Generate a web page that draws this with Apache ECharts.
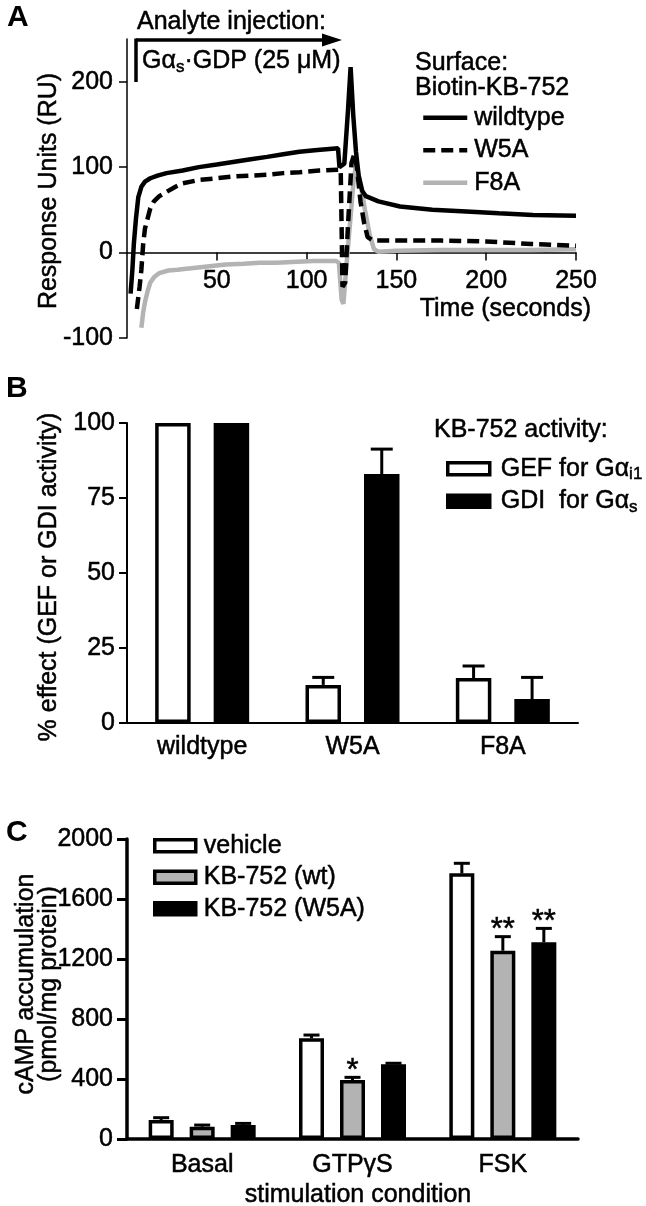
<!DOCTYPE html>
<html><head><meta charset="utf-8">
<script src="https://cdn.jsdelivr.net/npm/echarts@6/dist/echarts.min.js"></script>
<style>html,body{margin:0;padding:0;background:#fff}#c{width:646px;height:1206px}</style>
</head><body><div id="c"></div>
<script>
// ---------- Panel A: SPR sensorgram (time in s, response in RU) ----------
const wildtypeRU = [[2,-48],[3,-20],[3.8,10],[5,40],[6.3,65],[8,77],[10,83],[13,87],[17,90],[22,93],[31,96],[40,100],[50,103],[59,106],[68,109],[78,112],[87,115],[96,118],[106,120],[117.5,122],[118.3,100],[121,104],[123,165],[124.5,217],[126,160],[127.5,118],[129,90],[131,72],[133,66],[140,60],[152,54],[170,50],[189,48],[207,46],[226,44],[250,43]];
const w5aRU = [[5.5,-66],[7,-40],[8,-20],[9,10],[10,28],[11.5,40],[13,52],[15,60],[18,66],[22,71],[27,77],[31,81],[40,85],[50,87],[59,89],[68,90],[78,91],[87,93],[96,94],[107,96],[117,97],[119,97],[120,-40],[121.5,-35],[123,30],[125,105],[126.5,115],[128,100],[130,60],[132,35],[134,18],[137,14],[150,14],[175,14],[200,13],[225,10],[250,8]];
const f8aRU = [[8,-88],[9,-70],[10,-58],[11.5,-45],[13,-35],[15,-29],[18,-24],[23,-21],[28,-20],[37,-18],[46,-16],[55,-14],[65,-13],[74,-12],[83,-12],[92,-11],[104,-10],[116.5,-10],[118,-12],[119.5,-55],[120.5,-60],[122,-20],[124,30],[126,80],[127.5,104],[130,80],[132.5,50],[135,22],[137.5,4],[140,1],[150,2],[175,3],[200,3],[225,3],[250,4]];
const timeTicks = [0,50,100,150,200,250];
const ruTicks = [-100,0,100,200];
const ruMin = -100, ruMax = 250;

// ---------- Panel B ----------
const mutants = ['wildtype','W5A','F8A'];
const gefEffect = [100, 12.7, 15];
const gefSem = [0, 2.5, 4];
const gdiEffect = [100, 83, 8];
const gdiSem = [0, 8.3, 7.2];

// ---------- Panel C ----------
const conditions = ['Basal','GTP\u03B3S','FSK'];
const vehicleCAMP = [127, 671, 1771];
const vehicleSem = [15, 22, 67];
const wtCAMP = [82, 393, 1255];
const wtSem = [11, 18, 94];
const w5aCAMP = [93, 498, 1311];
const w5aSem = [11, 7, 93];
const wtStars = ['', '*', '**'];
const w5aStars = ['', '', '**'];
const vehicleStars = ['', '', ''];

// ---------- styling / layout ----------
const FONT = "'Liberation Sans', Arial, Helvetica, sans-serif";
const FS = 25;
const HEAVY = 0.5;
const GRAY = '#b3b3b3';
const barLayoutB = {w: 35.5, gap: 23, cap: 22, lw: 3, border: 3.5};
const barLayoutC = {w: 25, gap: 16, cap: 16, lw: 3, border: 3.5};
const gridA = {left:127, top:39, width:449, height:299};

const chart = echarts.init(document.getElementById('c'), null, {renderer: 'canvas'});

function axisText(extra) {
  return Object.assign({color:'#000', fontSize: FS, fontFamily: FONT, textBorderColor:'#000', textBorderWidth: HEAVY,
    formatter: function (v) { return String(v); }}, extra || {});
}
function txt(extra) {
  return Object.assign({fontSize: FS, fontFamily: FONT, fill:'#000', stroke:'#000', lineWidth: HEAVY}, extra);
}

function errSeries(name, gi, vals, sems, slot, nSlots, lay, stars) {
  return {
    type: 'custom', name: name + '_err', xAxisIndex: gi, yAxisIndex: gi, z: 5,
    data: vals.map((v, i) => [i, v, sems[i]]),
    renderItem: function (params, api) {
      const i = api.value(0), v = api.value(1), s = api.value(2);
      const base = api.coord([i, v]);
      const top = api.coord([i, v + s]);
      const off = (slot - (nSlots - 1) / 2) * (lay.w + lay.gap);
      const x = base[0] + off;
      const children = [];
      if (s > 0) {
        children.push({type:'line', shape:{x1:x, y1:base[1], x2:x, y2:top[1]}, style:{stroke:'#000', lineWidth:lay.lw}});
        children.push({type:'line', shape:{x1:x - lay.cap/2, y1:top[1], x2:x + lay.cap/2, y2:top[1]}, style:{stroke:'#000', lineWidth:lay.lw}});
      }
      const st = stars ? stars[params.dataIndex] : '';
      if (st) {
        children.push({type:'text', x: x, y: top[1] - 6, style:{text: st, fill:'#000', stroke:'#000', lineWidth:0.5, fontSize: 31, fontFamily: FONT, align:'center', verticalAlign:'middle'}});
      }
      return {type:'group', children: children};
    }
  };
}

function barSeries(name, gi, vals, fill, lay) {
  return {
    type:'bar', name: name, xAxisIndex: gi, yAxisIndex: gi, data: vals,
    barWidth: lay.w, barGap: (lay.gap / lay.w * 100) + '%',
    itemStyle: {color: fill, borderColor:'#000', borderWidth: lay.border},
    emphasis: {disabled: true}
  };
}

const legendText = {fontSize:FS, color:'#000', fontFamily:FONT, lineHeight:25, textBorderColor:'#000', textBorderWidth:HEAVY};

const option = {
  animation: false,
  backgroundColor: '#fff',
  textStyle: {fontFamily: FONT},
  grid: [
    Object.assign({outerBoundsMode:'none'}, gridA),
    {left:127, top:423, width:451, height:300, outerBoundsMode:'none'},
    {left:127, top:839, width:451, height:300, outerBoundsMode:'none'}
  ],
  xAxis: [
    {gridIndex:0, type:'value', min:timeTicks[0], max:timeTicks[timeTicks.length-1], interval:50,
     position:'bottom',
     // place the time axis on the zero-RU line
     offset: -gridA.height * (0 - ruMin) / (ruMax - ruMin),
     axisLine:{onZero:false, lineStyle:{color:'#000', width:1.5}},
     axisTick:{length:8, lineStyle:{color:'#000', width:1.5}},
     axisLabel: axisText({showMinLabel:false, margin:16}),
     splitLine:{show:false}},
    {gridIndex:1, type:'category', data: mutants,
     axisLine:{lineStyle:{color:'#000', width:2}},
     axisTick:{alignWithLabel:true, length:9, lineStyle:{color:'#000', width:2}},
     axisLabel: axisText({margin:12, formatter: null}),
     splitLine:{show:false}},
    {gridIndex:2, type:'category', data: conditions,
     axisLine:{lineStyle:{color:'#000', width:3.5}},
     axisTick:{alignWithLabel:true, length:11, lineStyle:{color:'#000', width:3}},
     axisLabel: axisText({margin:14, formatter: null}),
     splitLine:{show:false}}
  ],
  yAxis: [
    {gridIndex:0, type:'value', min:ruMin, max:ruMax, interval:100,
     axisLine:{show:true, onZero:false, lineStyle:{color:'#000', width:1.5}},
     axisTick:{show:true, length:8, customValues: ruTicks, lineStyle:{color:'#000', width:1.5}},
     axisLabel: axisText({customValues: ruTicks, margin:14}),
     splitLine:{show:false}},
    {gridIndex:1, type:'value', min:0, max:100, interval:25,
     axisLine:{show:true, lineStyle:{color:'#000', width:2}},
     axisTick:{show:true, length:8, lineStyle:{color:'#000', width:2}},
     axisLabel: axisText({margin:12}),
     splitLine:{show:false}},
    {gridIndex:2, type:'value', min:0, max:2000, interval:400,
     axisLine:{show:true, lineStyle:{color:'#000', width:3.5}},
     axisTick:{show:true, length:10, lineStyle:{color:'#000', width:3}},
     axisLabel: axisText({margin:14}),
     splitLine:{show:false}}
  ],
  legend: [
    {left:416, top:100, orient:'vertical', itemWidth:44, itemHeight:14, itemGap:7,
     data:['wildtype','W5A','F8A'], selectedMode:false,
     lineStyle:{width:4.5},
     itemStyle:{opacity:0},
     textStyle: Object.assign({padding:[0,0,0,2]}, legendText)},
    {left:441, top:451, orient:'vertical', itemWidth:42, itemHeight:12, itemGap:5, icon:'rect',
     data:['GEF for G\u03B1i1','GDI  for G\u03B1s'], selectedMode:false,
     itemStyle:{borderColor:'#000', borderWidth:3.5},
     formatter: function (n) {
       if (n.indexOf('GEF') === 0) return '{m|GEF for G\u03B1}{s|i1}';
       return '{m|GDI  for G\u03B1}{s|s}';
     },
     textStyle: Object.assign({padding:[0,0,0,6],
       rich:{m:{fontSize:FS, fontFamily:FONT, color:'#000', textBorderColor:'#000', textBorderWidth:HEAVY},
             s:{fontSize:17, fontFamily:FONT, color:'#000', textBorderColor:'#000', textBorderWidth:HEAVY, padding:[12,0,0,0]}}}, legendText)},
    {left:148, top:828, orient:'vertical', itemWidth:41, itemHeight:12, itemGap:6, icon:'rect',
     data:['vehicle','KB-752 (wt)','KB-752 (W5A)'], selectedMode:false,
     itemStyle:{borderColor:'#000', borderWidth:3.5},
     textStyle: Object.assign({padding:[0,0,0,3]}, legendText)}
  ],
  series: [
    {type:'line', name:'wildtype', xAxisIndex:0, yAxisIndex:0, data: wildtypeRU, symbol:'none', showSymbol:false,
     lineStyle:{color:'#000', width:4.5}, itemStyle:{color:'#000'}, z:4},
    {type:'line', name:'W5A', xAxisIndex:0, yAxisIndex:0, data: w5aRU, symbol:'none', showSymbol:false,
     lineStyle:{color:'#000', width:4.5, type:[12,6]}, itemStyle:{color:'#000'}, z:3},
    {type:'line', name:'F8A', xAxisIndex:0, yAxisIndex:0, data: f8aRU, symbol:'none', showSymbol:false,
     lineStyle:{color:GRAY, width:4.5}, itemStyle:{color:GRAY}, z:2},

    barSeries('GEF for G\u03B1i1', 1, gefEffect, '#fff', barLayoutB),
    barSeries('GDI  for G\u03B1s', 1, gdiEffect, '#000', barLayoutB),
    errSeries('gef', 1, gefEffect, gefSem, 0, 2, barLayoutB, null),
    errSeries('gdi', 1, gdiEffect, gdiSem, 1, 2, barLayoutB, null),

    barSeries('vehicle', 2, vehicleCAMP, '#fff', barLayoutC),
    barSeries('KB-752 (wt)', 2, wtCAMP, GRAY, barLayoutC),
    barSeries('KB-752 (W5A)', 2, w5aCAMP, '#000', barLayoutC),
    errSeries('veh', 2, vehicleCAMP, vehicleSem, 0, 3, barLayoutC, vehicleStars),
    errSeries('wt', 2, wtCAMP, wtSem, 1, 3, barLayoutC, wtStars),
    errSeries('w5a', 2, w5aCAMP, w5aSem, 2, 3, barLayoutC, w5aStars)
  ],
  graphic: [
    // panel letters
    {type:'text', x:7, y:3, style:{text:'A', fontSize:30, fontWeight:'bold', fontFamily:FONT, fill:'#000'}},
    {type:'text', x:6, y:374, style:{text:'B', fontSize:30, fontWeight:'bold', fontFamily:FONT, fill:'#000'}},
    {type:'text', x:6, y:818, style:{text:'C', fontSize:30, fontWeight:'bold', fontFamily:FONT, fill:'#000'}},
    // Panel A annotations
    {type:'text', x:137, y:22, style: txt({text:'Analyte injection:', verticalAlign:'middle'})},
    {type:'line', shape:{x1:136, y1:40, x2:326, y2:40}, style:{stroke:'#000', lineWidth:3.5}},
    {type:'polygon', shape:{points:[[322,33.5],[342,40],[322,46.5]]}, style:{fill:'#000'}},
    {type:'line', shape:{x1:136, y1:38.5, x2:136, y2:82}, style:{stroke:'#000', lineWidth:3.5}},
    {type:'text', x:142, y:61, style: txt({text:'{m|G\u03B1}{s|s}{m|\u00B7GDP (25 \u03BCM)}', verticalAlign:'middle',
      rich:{m:{fontSize:FS, fontFamily:FONT, fill:'#000', stroke:'#000', lineWidth:HEAVY}, s:{fontSize:17, fontFamily:FONT, fill:'#000', stroke:'#000', lineWidth:HEAVY, padding:[12,0,0,0]}}})},
    {type:'text', x:415, y:63, style: txt({text:'Surface:', verticalAlign:'middle'})},
    {type:'text', x:415, y:88, style: txt({text:'Biotin-KB-752', verticalAlign:'middle'})},
    {type:'text', x:591, y:309, style: txt({text:'Time (seconds)', align:'right', verticalAlign:'middle'})},
    {type:'text', x:49, y:191, rotation:Math.PI/2, style: txt({text:'Response Units (RU)', align:'center', verticalAlign:'middle'})},
    // Panel B annotations
    {type:'text', x:434, y:430, style: txt({text:'KB-752 activity:', verticalAlign:'middle'})},
    {type:'text', x:49, y:577, rotation:Math.PI/2, style: txt({text:'% effect (GEF or GDI activity)', align:'center', verticalAlign:'middle'})},
    // Panel C annotations
    {type:'text', x:38, y:984, rotation:Math.PI/2, style: txt({text:'cAMP accumulation\n(pmol/mg protein)', lineHeight:23, align:'center', verticalAlign:'middle'})},
    {type:'text', x:358, y:1195, style: txt({text:'stimulation condition', align:'center', verticalAlign:'middle'})}
  ]
};
chart.setOption(option);
</script></body></html>
